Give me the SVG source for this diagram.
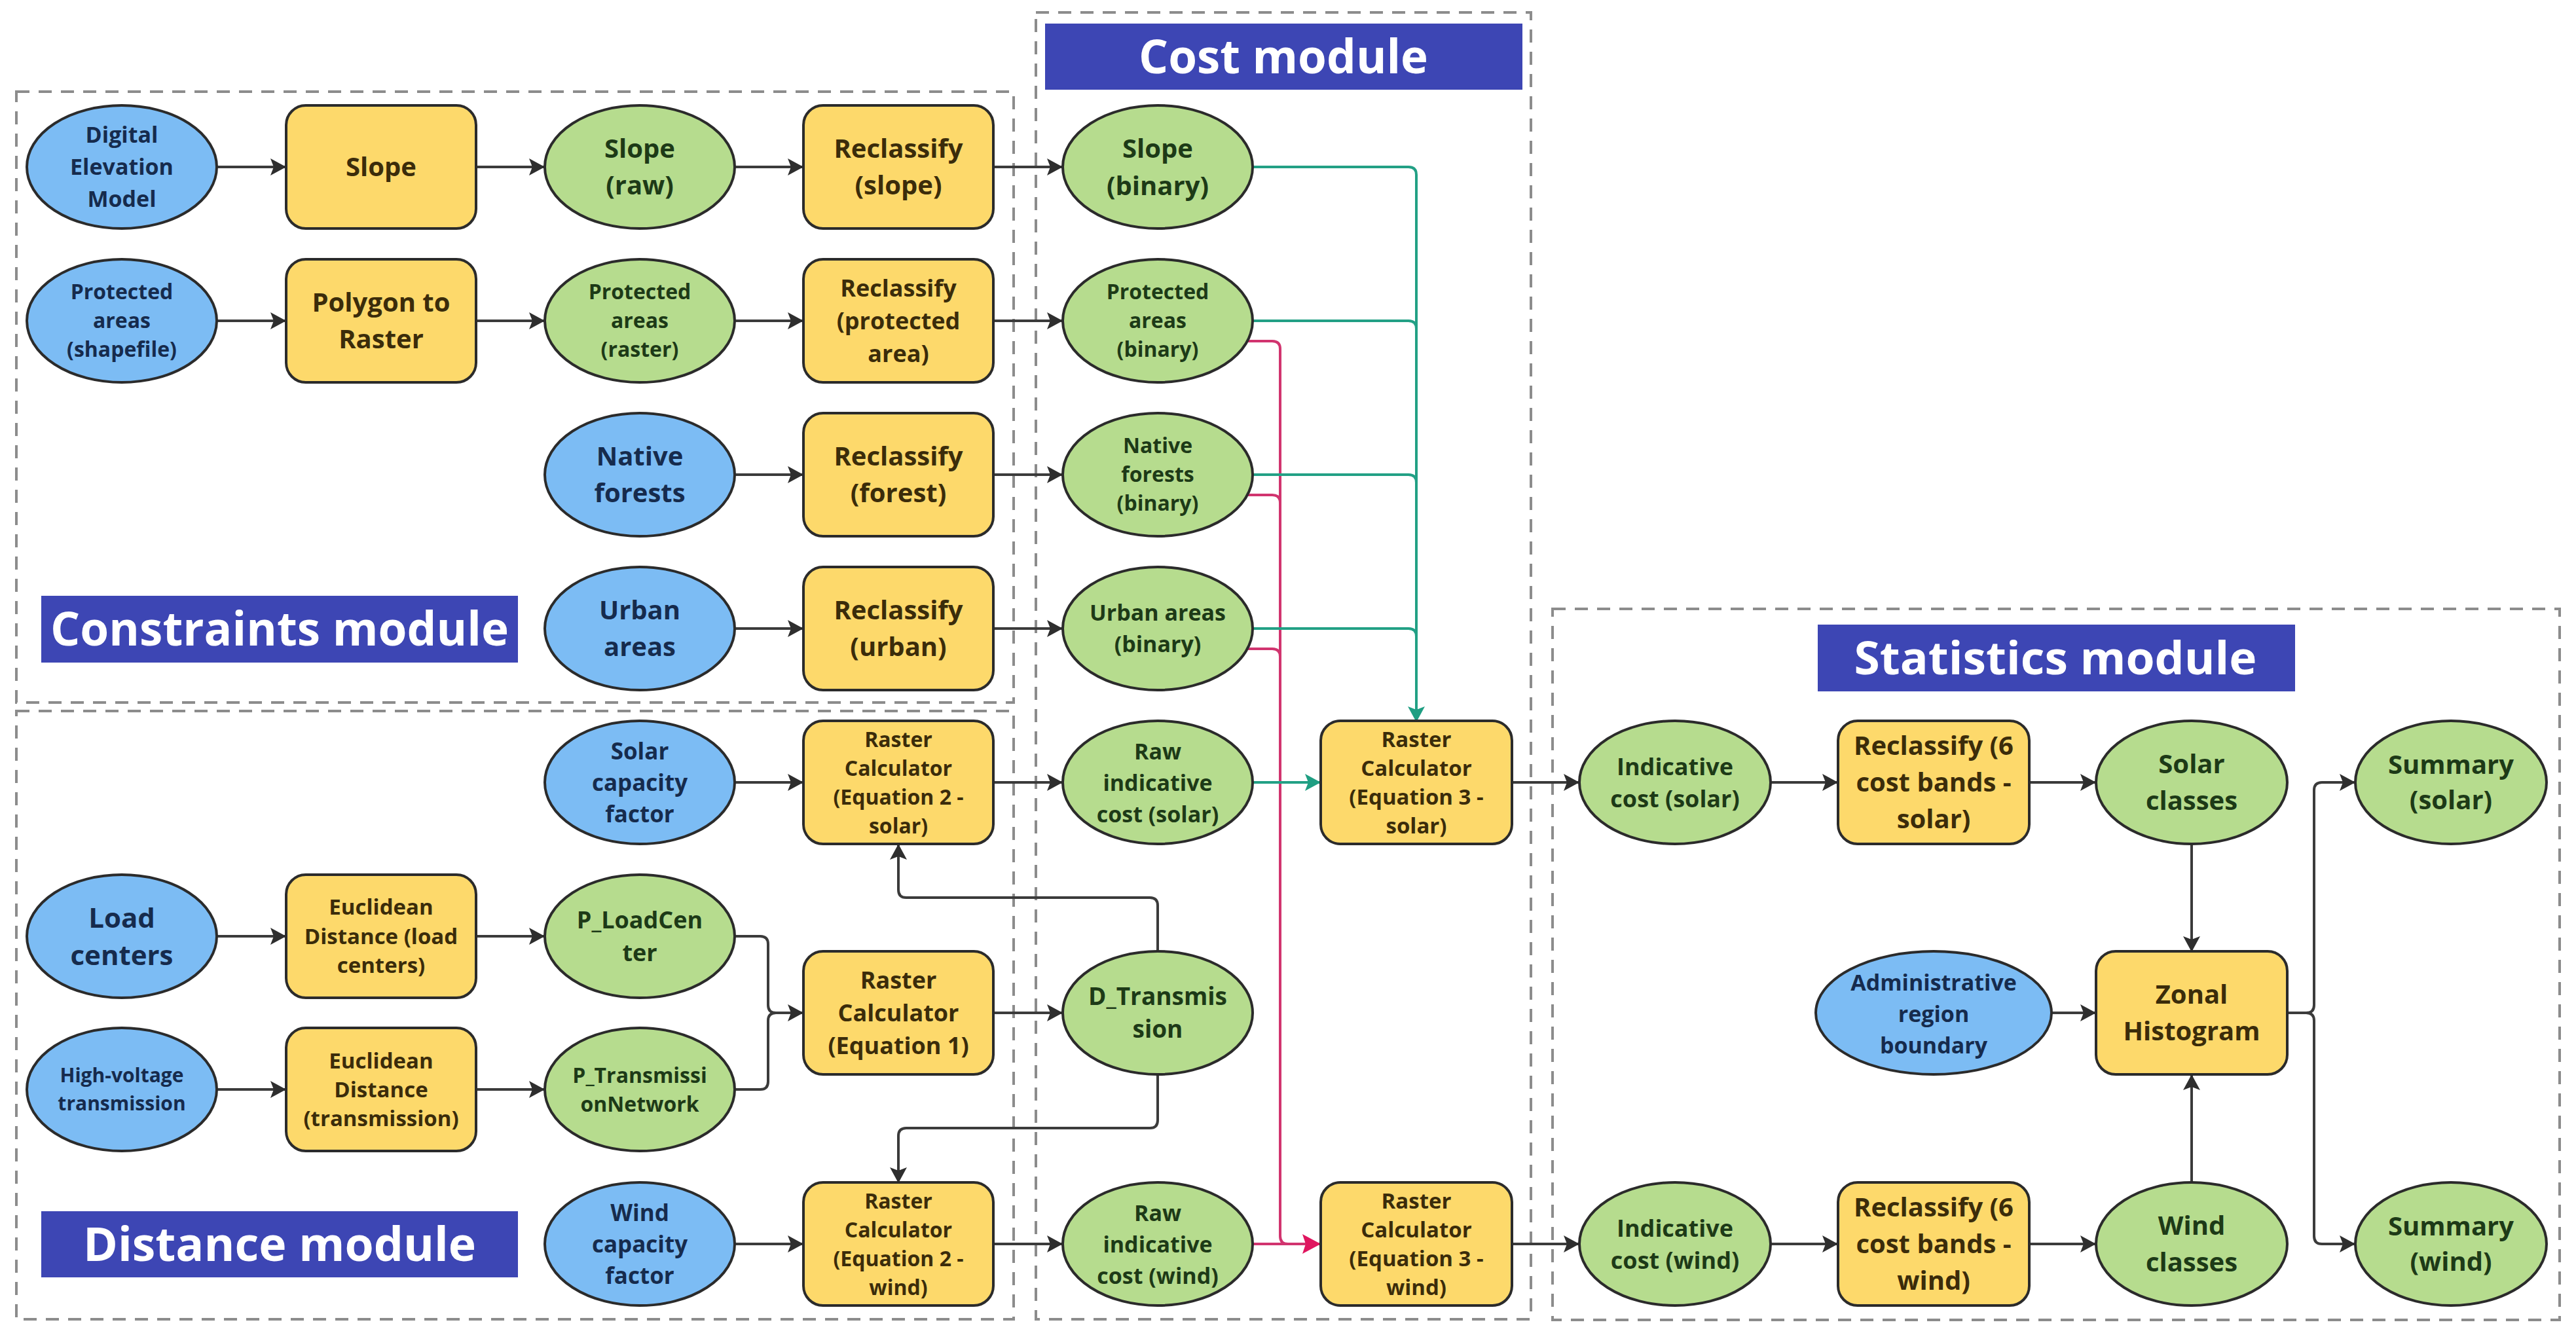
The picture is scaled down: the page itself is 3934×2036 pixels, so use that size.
<svg xmlns="http://www.w3.org/2000/svg" width="3934" height="2036" viewBox="0 0 3934 2036">
<style>
.box{fill:none;stroke:#8c8c8c;stroke-width:4;stroke-dasharray:20 14}
.title{fill:#3d46b4}
.tt{fill:#ffffff;font-family:"Open Sans","Liberation Sans",sans-serif;font-weight:700;text-anchor:middle}
.in ellipse{fill:#7cbcf4;stroke:#2b2b2b;stroke-width:4}
.pr rect{fill:#fdd96b;stroke:#2b2b2b;stroke-width:4}
.out ellipse{fill:#b6dc8e;stroke:#2b2b2b;stroke-width:4}
text{font-family:"Open Sans","Liberation Sans",sans-serif;font-weight:700;text-anchor:middle}
.in text{fill:#162b4d}
.pr text{fill:#3b2c0a}
.out text{fill:#1d3a17}
.c{fill:none;stroke:#3b3b3b;stroke-width:4}
.ct{fill:none;stroke:#22a085;stroke-width:4}
.cp{fill:none;stroke:#d1346f;stroke-width:4}
</style>
<defs>
<marker id="ad" markerUnits="userSpaceOnUse" markerWidth="26" markerHeight="28" refX="24" refY="13" orient="auto"><path d="M0,0 L24,13 L0,26 L5,13 z" fill="#2e2e2e"/></marker>
<marker id="at" markerUnits="userSpaceOnUse" markerWidth="26" markerHeight="28" refX="24" refY="13" orient="auto"><path d="M0,0 L24,13 L0,26 L5,13 z" fill="#1f9e82"/></marker>
<marker id="ap" markerUnits="userSpaceOnUse" markerWidth="30" markerHeight="32" refX="28" refY="15" orient="auto"><path d="M0,0 L28,15 L0,30 L5,15 z" fill="#e0155f"/></marker>
<clipPath id="clipAdmin"><ellipse cx="2953" cy="1547" rx="178" ry="92"/></clipPath>
</defs>
<rect width="3934" height="2036" fill="#ffffff"/>

<g id="modules">
<rect class="box" x="25" y="140" width="1523" height="933"/>
<rect class="box" x="25" y="1086" width="1523" height="929"/>
<rect class="box" x="1582" y="19" width="756" height="1996"/>
<rect class="box" x="2371" y="930" width="1538" height="1086"/>
<rect class="title" x="63" y="910" width="728" height="102"/>
<text class="tt" x="427" y="986" font-size="72" textLength="700" lengthAdjust="spacingAndGlyphs">Constraints module</text>
<rect class="title" x="63" y="1850" width="728" height="101"/>
<text class="tt" x="427" y="1926" font-size="72" textLength="600" lengthAdjust="spacingAndGlyphs">Distance module</text>
<rect class="title" x="1596" y="36" width="729" height="101"/>
<text class="tt" x="1960" y="112" font-size="72" textLength="442" lengthAdjust="spacingAndGlyphs">Cost module</text>
<rect class="title" x="2776" y="954" width="729" height="102"/>
<text class="tt" x="3139" y="1030" font-size="70" textLength="615" lengthAdjust="spacingAndGlyphs">Statistics module</text>
</g>

<g id="connectors">
<path class="c" marker-end="url(#ad)" d="M331,255 H437"/>
<path class="c" marker-end="url(#ad)" d="M728,255 H832"/>
<path class="c" marker-end="url(#ad)" d="M1122,255 H1227"/>
<path class="c" marker-end="url(#ad)" d="M1517,255 H1623"/>
<path class="c" marker-end="url(#ad)" d="M331,490 H437"/>
<path class="c" marker-end="url(#ad)" d="M728,490 H832"/>
<path class="c" marker-end="url(#ad)" d="M1122,490 H1227"/>
<path class="c" marker-end="url(#ad)" d="M1517,490 H1623"/>
<path class="c" marker-end="url(#ad)" d="M1122,725 H1227"/>
<path class="c" marker-end="url(#ad)" d="M1517,725 H1623"/>
<path class="c" marker-end="url(#ad)" d="M1122,960 H1227"/>
<path class="c" marker-end="url(#ad)" d="M1517,960 H1623"/>
<path class="c" marker-end="url(#ad)" d="M1122,1195 H1227"/>
<path class="c" marker-end="url(#ad)" d="M1517,1195 H1623"/>
<path class="c" marker-end="url(#ad)" d="M2309,1195 H2412"/>
<path class="c" marker-end="url(#ad)" d="M2704,1195 H2807"/>
<path class="c" marker-end="url(#ad)" d="M3099,1195 H3201"/>
<path class="c" marker-end="url(#ad)" d="M331,1430 H437"/>
<path class="c" marker-end="url(#ad)" d="M728,1430 H832"/>
<path class="c" marker-end="url(#ad)" d="M331,1664 H437"/>
<path class="c" marker-end="url(#ad)" d="M728,1664 H832"/>
<path class="c" marker-end="url(#ad)" d="M1122,1430 H1161 Q1173,1430 1173,1442 V1535 Q1173,1547 1185,1547 H1227"/>
<path class="c" d="M1122,1664 H1161 Q1173,1664 1173,1652 V1559 Q1173,1547 1185,1547"/>
<path class="c" marker-end="url(#ad)" d="M1517,1547 H1623"/>
<path class="c" marker-end="url(#ad)" d="M1768,1453 V1383 Q1768,1371 1756,1371 H1384 Q1372,1371 1372,1359 V1289"/>
<path class="c" marker-end="url(#ad)" d="M1768,1641 V1711 Q1768,1723 1756,1723 H1384 Q1372,1723 1372,1735 V1807"/>
<path class="c" marker-end="url(#ad)" d="M1122,1900 H1227"/>
<path class="c" marker-end="url(#ad)" d="M1517,1900 H1623"/>
<path class="c" marker-end="url(#ad)" d="M2309,1900 H2412"/>
<path class="c" marker-end="url(#ad)" d="M2704,1900 H2807"/>
<path class="c" marker-end="url(#ad)" d="M3099,1900 H3201"/>
<path class="c" marker-end="url(#ad)" d="M3347,1289 V1454"/>
<path class="c" marker-end="url(#ad)" d="M3347,1807 V1641"/>
<path class="c" marker-end="url(#ad)" d="M3133,1547 H3201"/>
<path class="c" marker-end="url(#ad)" d="M3493,1547 H3522 Q3534,1547 3534,1535 V1207 Q3534,1195 3546,1195 H3597"/>
<path class="c" marker-end="url(#ad)" d="M3493,1547 H3522 Q3534,1547 3534,1559 V1888 Q3534,1900 3546,1900 H3597"/>
<path class="cp" d="M1905,521 H1943 Q1955,521 1955,533 V1888 Q1955,1900 1967,1900 H2017"/>
<path class="cp" d="M1905,756 H1943 Q1955,756 1955,768 V1888"/>
<path class="cp" d="M1905,991 H1943 Q1955,991 1955,1003 V1888"/>
<path class="cp" marker-end="url(#ap)" d="M1913,1900 H2017"/>
<path class="ct" marker-end="url(#at)" d="M1913,255 H2151 Q2163,255 2163,267 V1103"/>
<path class="ct" d="M1913,490 H2151 Q2163,490 2163,502"/>
<path class="ct" d="M1913,725 H2151 Q2163,725 2163,737"/>
<path class="ct" d="M1913,960 H2151 Q2163,960 2163,972"/>
<path class="ct" marker-end="url(#at)" d="M1913,1195 H2017"/>
</g>

<g id="n-dem" class="in"><ellipse cx="186" cy="255" rx="145" ry="94"/><text font-size="34"><tspan x="186" y="218">Digital</tspan><tspan x="186" y="267">Elevation</tspan><tspan x="186" y="316">Model</tspan></text></g>
<g id="n-slope" class="pr"><rect x="437" y="161" width="290" height="188" rx="30"/><text font-size="40"><tspan x="582" y="269">Slope</tspan></text></g>
<g id="n-slope-raw" class="out"><ellipse cx="977" cy="255" rx="145" ry="94"/><text font-size="40"><tspan x="977" y="241">Slope</tspan><tspan x="977" y="297">(raw)</tspan></text></g>
<g id="n-reclass-slope" class="pr"><rect x="1227" y="161" width="290" height="188" rx="30"/><text font-size="40"><tspan x="1372" y="241">Reclassify</tspan><tspan x="1372" y="297">(slope)</tspan></text></g>
<g id="n-slope-bin" class="out"><ellipse cx="1768" cy="255" rx="145" ry="94"/><text font-size="40"><tspan x="1768" y="241">Slope</tspan><tspan x="1768" y="298">(binary)</tspan></text></g>

<g id="n-pa-shp" class="in"><ellipse cx="186" cy="490" rx="145" ry="94"/><text font-size="32"><tspan x="186" y="457">Protected</tspan><tspan x="186" y="501">areas</tspan><tspan x="186" y="545">(shapefile)</tspan></text></g>
<g id="n-poly2ras" class="pr"><rect x="437" y="396" width="290" height="188" rx="30"/><text font-size="40"><tspan x="582" y="476">Polygon to</tspan><tspan x="582" y="532">Raster</tspan></text></g>
<g id="n-pa-ras" class="out"><ellipse cx="977" cy="490" rx="145" ry="94"/><text font-size="32"><tspan x="977" y="457">Protected</tspan><tspan x="977" y="501">areas</tspan><tspan x="977" y="545">(raster)</tspan></text></g>
<g id="n-reclass-pa" class="pr"><rect x="1227" y="396" width="290" height="188" rx="30"/><text font-size="36"><tspan x="1372" y="453">Reclassify</tspan><tspan x="1372" y="503">(protected</tspan><tspan x="1372" y="553">area)</tspan></text></g>
<g id="n-pa-bin" class="out"><ellipse cx="1768" cy="490" rx="145" ry="94"/><text font-size="32"><tspan x="1768" y="457">Protected</tspan><tspan x="1768" y="501">areas</tspan><tspan x="1768" y="545">(binary)</tspan></text></g>

<g id="n-native" class="in"><ellipse cx="977" cy="725" rx="145" ry="94"/><text font-size="40"><tspan x="977" y="711">Native</tspan><tspan x="977" y="767">forests</tspan></text></g>
<g id="n-reclass-forest" class="pr"><rect x="1227" y="631" width="290" height="188" rx="30"/><text font-size="40"><tspan x="1372" y="711">Reclassify</tspan><tspan x="1372" y="767">(forest)</tspan></text></g>
<g id="n-native-bin" class="out"><ellipse cx="1768" cy="725" rx="145" ry="94"/><text font-size="32"><tspan x="1768" y="692">Native</tspan><tspan x="1768" y="736">forests</tspan><tspan x="1768" y="780">(binary)</tspan></text></g>

<g id="n-urban" class="in"><ellipse cx="977" cy="960" rx="145" ry="94"/><text font-size="40"><tspan x="977" y="946">Urban</tspan><tspan x="977" y="1002">areas</tspan></text></g>
<g id="n-reclass-urban" class="pr"><rect x="1227" y="866" width="290" height="188" rx="30"/><text font-size="40"><tspan x="1372" y="946">Reclassify</tspan><tspan x="1372" y="1002">(urban)</tspan></text></g>
<g id="n-urban-bin" class="out"><ellipse cx="1768" cy="960" rx="145" ry="94"/><text font-size="34"><tspan x="1768" y="948">Urban areas</tspan><tspan x="1768" y="996">(binary)</tspan></text></g>

<g id="n-solar-cf" class="in"><ellipse cx="977" cy="1195" rx="145" ry="94"/><text font-size="35"><tspan x="977" y="1160">Solar</tspan><tspan x="977" y="1208">capacity</tspan><tspan x="977" y="1256">factor</tspan></text></g>
<g id="n-rc2-solar" class="pr"><rect x="1227" y="1101" width="290" height="188" rx="30"/><text font-size="32"><tspan x="1372" y="1141">Raster</tspan><tspan x="1372" y="1185">Calculator</tspan><tspan x="1372" y="1229">(Equation 2 -</tspan><tspan x="1372" y="1273">solar)</tspan></text></g>
<g id="n-raw-solar" class="out"><ellipse cx="1768" cy="1195" rx="145" ry="94"/><text font-size="34"><tspan x="1768" y="1160">Raw</tspan><tspan x="1768" y="1208">indicative</tspan><tspan x="1768" y="1256">cost (solar)</tspan></text></g>
<g id="n-rc3-solar" class="pr"><rect x="2017" y="1101" width="292" height="188" rx="30"/><text font-size="33"><tspan x="2163" y="1141">Raster</tspan><tspan x="2163" y="1185">Calculator</tspan><tspan x="2163" y="1229">(Equation 3 -</tspan><tspan x="2163" y="1273">solar)</tspan></text></g>
<g id="n-ind-solar" class="out"><ellipse cx="2558" cy="1195" rx="146" ry="94"/><text font-size="36"><tspan x="2558" y="1184">Indicative</tspan><tspan x="2558" y="1233">cost (solar)</tspan></text></g>
<g id="n-rc6-solar" class="pr"><rect x="2807" y="1101" width="292" height="188" rx="30"/><text font-size="40"><tspan x="2953" y="1153">Reclassify (6</tspan><tspan x="2953" y="1209">cost bands -</tspan><tspan x="2953" y="1265">solar)</tspan></text></g>
<g id="n-solar-cls" class="out"><ellipse cx="3347" cy="1195" rx="146" ry="94"/><text font-size="40"><tspan x="3347" y="1181">Solar</tspan><tspan x="3347" y="1237">classes</tspan></text></g>
<g id="n-sum-solar" class="out"><ellipse cx="3743" cy="1195" rx="146" ry="94"/><text font-size="40"><tspan x="3743" y="1182">Summary</tspan><tspan x="3743" y="1236">(solar)</tspan></text></g>

<g id="n-load" class="in"><ellipse cx="186" cy="1430" rx="145" ry="94"/><text font-size="42"><tspan x="186" y="1417">Load</tspan><tspan x="186" y="1474">centers</tspan></text></g>
<g id="n-ed-load" class="pr"><rect x="437" y="1336" width="290" height="188" rx="30"/><text font-size="33"><tspan x="582" y="1397">Euclidean</tspan><tspan x="582" y="1442">Distance (load</tspan><tspan x="582" y="1486">centers)</tspan></text></g>
<g id="n-p-load" class="out"><ellipse cx="977" cy="1430" rx="145" ry="94"/><text font-size="36"><tspan x="977" y="1418">P_LoadCen</tspan><tspan x="977" y="1468">ter</tspan></text></g>
<g id="n-rc1" class="pr"><rect x="1227" y="1453" width="290" height="188" rx="30"/><text font-size="36"><tspan x="1372" y="1510">Raster</tspan><tspan x="1372" y="1560">Calculator</tspan><tspan x="1372" y="1610">(Equation 1)</tspan></text></g>
<g id="n-d-trans" class="out"><ellipse cx="1768" cy="1547" rx="145" ry="94"/><text font-size="37"><tspan x="1768" y="1535">D_Transmis</tspan><tspan x="1768" y="1585">sion</tspan></text></g>
<g id="n-admin" class="in"><ellipse cx="2953" cy="1547" rx="180" ry="94"/><text font-size="34" clip-path="url(#clipAdmin)"><tspan x="2953" y="1513">Administrative</tspan><tspan x="2953" y="1561">region</tspan><tspan x="2953" y="1609">boundary</tspan></text></g>
<g id="n-zonal" class="pr"><rect x="3201" y="1453" width="292" height="188" rx="30"/><text font-size="40"><tspan x="3347" y="1533">Zonal</tspan><tspan x="3347" y="1589">Histogram</tspan></text></g>

<g id="n-hv" class="in"><ellipse cx="186" cy="1664" rx="145" ry="94"/><text font-size="30"><tspan x="186" y="1653">High-voltage</tspan><tspan x="186" y="1696">transmission</tspan></text></g>
<g id="n-ed-trans" class="pr"><rect x="437" y="1570" width="290" height="188" rx="30"/><text font-size="33"><tspan x="582" y="1632">Euclidean</tspan><tspan x="582" y="1676">Distance</tspan><tspan x="582" y="1720">(transmission)</tspan></text></g>
<g id="n-p-trans" class="out"><ellipse cx="977" cy="1664" rx="145" ry="94"/><text font-size="32"><tspan x="977" y="1654">P_Transmissi</tspan><tspan x="977" y="1698">onNetwork</tspan></text></g>

<g id="n-wind-cf" class="in"><ellipse cx="977" cy="1900" rx="145" ry="94"/><text font-size="35"><tspan x="977" y="1865">Wind</tspan><tspan x="977" y="1913">capacity</tspan><tspan x="977" y="1961">factor</tspan></text></g>
<g id="n-rc2-wind" class="pr"><rect x="1227" y="1806" width="290" height="188" rx="30"/><text font-size="32"><tspan x="1372" y="1846">Raster</tspan><tspan x="1372" y="1890">Calculator</tspan><tspan x="1372" y="1934">(Equation 2 -</tspan><tspan x="1372" y="1978">wind)</tspan></text></g>
<g id="n-raw-wind" class="out"><ellipse cx="1768" cy="1900" rx="145" ry="94"/><text font-size="34"><tspan x="1768" y="1865">Raw</tspan><tspan x="1768" y="1913">indicative</tspan><tspan x="1768" y="1961">cost (wind)</tspan></text></g>
<g id="n-rc3-wind" class="pr"><rect x="2017" y="1806" width="292" height="188" rx="30"/><text font-size="33"><tspan x="2163" y="1846">Raster</tspan><tspan x="2163" y="1890">Calculator</tspan><tspan x="2163" y="1934">(Equation 3 -</tspan><tspan x="2163" y="1978">wind)</tspan></text></g>
<g id="n-ind-wind" class="out"><ellipse cx="2558" cy="1900" rx="146" ry="94"/><text font-size="36"><tspan x="2558" y="1889">Indicative</tspan><tspan x="2558" y="1938">cost (wind)</tspan></text></g>
<g id="n-rc6-wind" class="pr"><rect x="2807" y="1806" width="292" height="188" rx="30"/><text font-size="40"><tspan x="2953" y="1858">Reclassify (6</tspan><tspan x="2953" y="1914">cost bands -</tspan><tspan x="2953" y="1970">wind)</tspan></text></g>
<g id="n-wind-cls" class="out"><ellipse cx="3347" cy="1900" rx="146" ry="94"/><text font-size="40"><tspan x="3347" y="1886">Wind</tspan><tspan x="3347" y="1942">classes</tspan></text></g>
<g id="n-sum-wind" class="out"><ellipse cx="3743" cy="1900" rx="146" ry="94"/><text font-size="40"><tspan x="3743" y="1887">Summary</tspan><tspan x="3743" y="1941">(wind)</tspan></text></g>
</svg>
